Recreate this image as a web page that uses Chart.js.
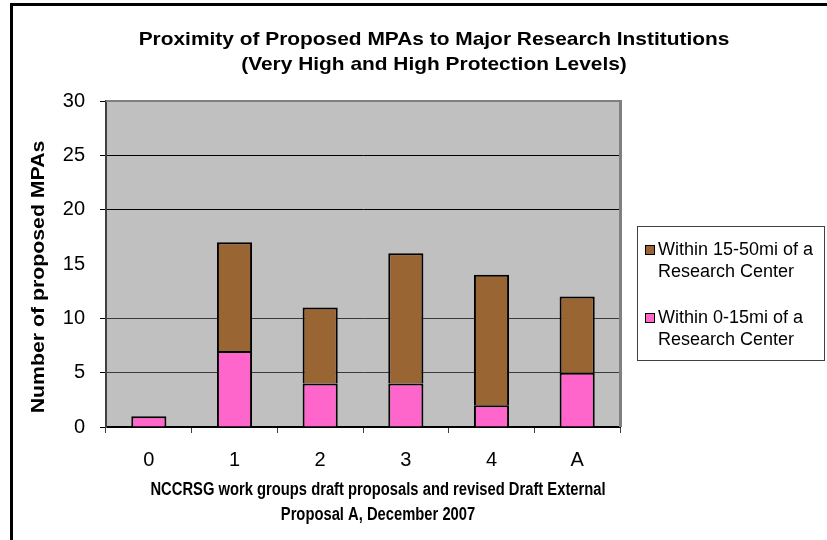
<!DOCTYPE html>
<html>
<head>
<meta charset="utf-8">
<script src="https://cdn.jsdelivr.net/npm/chart.js@4/dist/chart.umd.min.js"></script>
<style>
  html, body { margin: 0; padding: 0; background: #fff; }
  #wrap { position: relative; width: 827px; height: 540px; overflow: hidden; }
  #frame { position: absolute; left: 10px; top: 3px; width: 900px; height: 600px;
           border-left: 3px solid #000; border-top: 3px solid #000; }
  canvas { position: absolute; left: 0; top: 0; }
</style>
</head>
<body>
<div id="wrap">
  <div id="frame"></div>
  <canvas id="c" width="827" height="540"></canvas>
</div>
<script>
// Proposal groups on the x axis
const categories = ['0', '1', '2', '3', '4', 'A'];
// Number of proposed MPAs within 0-15 miles of a research center
const near0to15 = [1, 7, 4, 4, 2, 5];
// Number of proposed MPAs within 15-50 miles of a research center
const near15to50 = [0, 10, 7, 12, 12, 7];
// Legend text, one entry per line
const nearLabelLines = ['Within 0-15mi of a', 'Research Center'];
const farLabelLines = ['Within 15-50mi of a', 'Research Center'];
// Value axis ticks
const yTicks = [0, 5, 10, 15, 20, 25, 30];

const titleLines = ['Proximity of Proposed MPAs to Major Research Institutions',
                    '(Very High and High Protection Levels)'];
const xTitleLines = ['NCCRSG work groups draft proposals and revised Draft External',
                     'Proposal A, December 2007'];
const yTitle = 'Number of proposed MPAs';

const SANS = '"Liberation Sans", Arial, sans-serif';
Chart.defaults.font.family = SANS;
Chart.defaults.color = '#000';

// gridline shade per value (15 has no line drawn)
function gridShade(v) {
  if (v === 30 || v === 15 || v === 0) return 'rgba(0,0,0,0)';
  if (v >= 20) return '#000';
  return '#3a3a3a';
}

const plotBackdrop = {
  id: 'plotBackdrop',
  beforeDraw(chart) {
    const { ctx, chartArea: a } = chart;
    ctx.save();
    ctx.fillStyle = '#C0C0C0';
    ctx.fillRect(a.left, a.top, a.right - a.left, a.bottom - a.top);
    ctx.restore();
  },
  afterDraw(chart) {
    const { ctx, chartArea: a } = chart;
    ctx.save();
    ctx.strokeStyle = '#808080';
    ctx.lineWidth = 2;
    ctx.beginPath();
    ctx.moveTo(a.left, a.top);
    ctx.lineTo(a.right, a.top);
    ctx.stroke();
    ctx.lineWidth = 3;
    ctx.beginPath();
    ctx.moveTo(a.right + 0.5, a.top - 1);
    ctx.lineTo(a.right + 0.5, a.bottom);
    ctx.stroke();
    ctx.restore();
  }
};

// text drawn with a horizontal stretch (wide headline, condensed axis caption)
function stretchedText(ctx, text, x, y, sx, rot) {
  ctx.save();
  ctx.translate(x, y);
  if (rot) ctx.rotate(rot);
  ctx.scale(sx, 1);
  ctx.fillText(text, 0, 0);
  ctx.restore();
}

const chartTexts = {
  id: 'chartTexts',
  afterDraw(chart) {
    const { ctx, chartArea: a } = chart;
    ctx.save();
    ctx.fillStyle = '#000';
    ctx.textAlign = 'center';

    // headline
    ctx.font = 'bold 19px ' + SANS;
    ctx.textBaseline = 'alphabetic';
    stretchedText(ctx, titleLines[0], 434, 45, 1.1);
    stretchedText(ctx, titleLines[1], 434, 70, 1.1);

    // category axis caption
    ctx.font = 'bold 18px ' + SANS;
    ctx.textBaseline = 'middle';
    const cx = (a.left + a.right) / 2 + 15;
    stretchedText(ctx, xTitleLines[0], cx, a.bottom + 63, 0.82);
    stretchedText(ctx, xTitleLines[1], cx, a.bottom + 88, 0.82);

    // value axis caption
    ctx.font = 'bold 19px ' + SANS;
    stretchedText(ctx, yTitle, 39, (a.top + a.bottom) / 2 + 13, 1.12, -Math.PI / 2);
    ctx.restore();
  }
};

const sideLegend = {
  id: 'sideLegend',
  afterDraw(chart) {
    const { ctx, chartArea: a } = chart;
    const x0 = a.right + 17, y0 = 226, w = 187, h = 134;
    ctx.save();
    ctx.fillStyle = '#fff';
    ctx.fillRect(x0, y0, w, h);
    ctx.strokeStyle = '#404040';
    ctx.lineWidth = 1;
    ctx.strokeRect(x0 + 0.5, y0 + 0.5, w, h);
    ctx.font = '18px ' + SANS;
    ctx.textBaseline = 'middle';
    ctx.textAlign = 'left';
    [1, 0].forEach((di, k) => {
      const ds = chart.data.datasets[di];
      const ty = y0 + 24 + k * 68;
      ctx.fillStyle = ds.backgroundColor;
      ctx.fillRect(x0 + 8, ty - 5, 10, 10);
      ctx.strokeStyle = '#000';
      ctx.strokeRect(x0 + 8.5, ty - 4.5, 9, 9);
      ctx.fillStyle = '#000';
      ds.lines.forEach((ln, i) => ctx.fillText(ln, x0 + 21, ty + i * 22));
    });
    ctx.restore();
  }
};

new Chart(document.getElementById('c'), {
  type: 'bar',
  data: {
    labels: categories,
    datasets: [
      { label: nearLabelLines.join(' '), lines: nearLabelLines, data: near0to15,
        backgroundColor: '#FF66CC', borderColor: '#000', borderWidth: 2 },
      { label: farLabelLines.join(' '), lines: farLabelLines, data: near15to50,
        backgroundColor: '#996633', borderColor: '#000', borderWidth: 2 }
    ]
  },
  options: {
    responsive: false,
    animation: false,
    devicePixelRatio: 1,
    layout: { padding: { top: 101, right: 207, bottom: 4, left: 20 } },
    datasets: { bar: { barPercentage: 0.41, categoryPercentage: 1 } },
    plugins: { legend: { display: false }, title: { display: false }, tooltip: { enabled: false } },
    scales: {
      x: {
        stacked: true,
        offset: true,
        grid: { offset: true, drawOnChartArea: false, color: '#404040', tickColor: '#404040', tickLength: 6 },
        border: { display: true, color: '#000', width: 2 },
        ticks: { font: { size: 20 }, color: '#000', padding: 15, maxRotation: 0 },
        title: { display: false },
        afterFit(scale) { scale.height = 109; }
      },
      y: {
        stacked: true,
        min: 0,
        max: 30,
        afterBuildTicks(scale) { scale.ticks = yTicks.map(v => ({ value: v })); },
        grid: {
          color: c => gridShade(c.tick.value),
          tickColor: c => (c.tick.value === 15 ? 'rgba(0,0,0,0)' : '#000'),
          tickLength: 6,
          lineWidth: 1
        },
        border: { display: true, color: '#404040', width: 2 },
        ticks: { font: { size: 20 }, color: '#000', padding: 15 },
        title: { display: false },
        afterFit(scale) { scale.width = 86; }
      }
    }
  },
  plugins: [plotBackdrop, chartTexts, sideLegend]
});
</script>
</body>
</html>
